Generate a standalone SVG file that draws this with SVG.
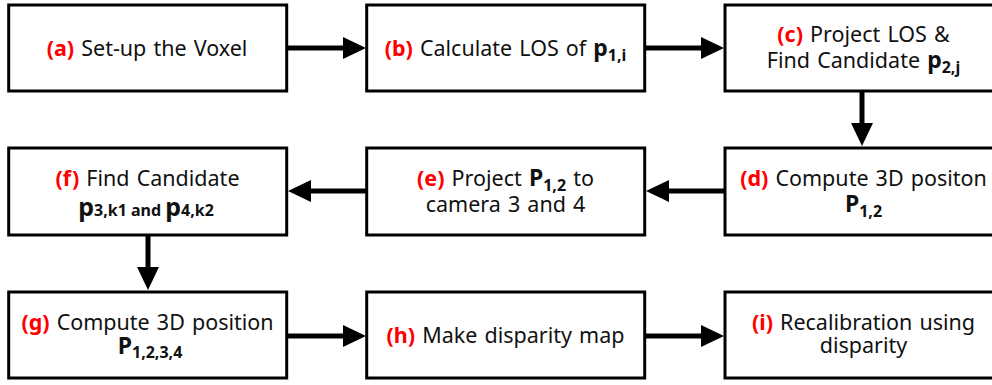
<svg xmlns="http://www.w3.org/2000/svg" width="992" height="385" viewBox="0 0 992 385">
<defs>
<style>
.box{fill:#fff;stroke:#000;stroke-width:3}
.t{font-family:"Noto Sans","Open Sans","DejaVu Sans",sans-serif;font-size:21.5px;fill:#111;text-anchor:middle;word-spacing:1.5px}
.r{fill:#ff0000;font-weight:bold}
.b{font-weight:bold}
.s{font-weight:bold;font-size:16px;word-spacing:0}
.con{stroke:#000;stroke-width:5;fill:none}
</style>
<marker id="ah" markerUnits="userSpaceOnUse" markerWidth="23" markerHeight="22" refX="0" refY="11" orient="auto">
<path d="M0,0 L23,11 L0,22 Z" fill="#000"/>
</marker>
</defs>
<rect width="992" height="385" fill="#fff"/>
<g id="connectors">
<line class="con" x1="288" y1="48" x2="343" y2="48" marker-end="url(#ah)"/>
<line class="con" x1="646" y1="48" x2="701" y2="48" marker-end="url(#ah)"/>
<line class="con" x1="862" y1="92" x2="862" y2="123" marker-end="url(#ah)"/>
<line class="con" x1="724" y1="191" x2="669" y2="191" marker-end="url(#ah)"/>
<line class="con" x1="366" y1="191" x2="311" y2="191" marker-end="url(#ah)"/>
<line class="con" x1="148" y1="236" x2="148" y2="267" marker-end="url(#ah)"/>
<line class="con" x1="288" y1="336" x2="343" y2="336" marker-end="url(#ah)"/>
<line class="con" x1="646" y1="336" x2="701" y2="336" marker-end="url(#ah)"/>
</g>
<g id="node-a">
<rect class="box" x="8.7" y="5" width="278" height="86"/>
<text class="t" x="147" y="56"><tspan class="r">(a)</tspan> Set-up the Voxel</text>
</g>
<g id="node-b">
<rect class="box" x="366.7" y="5" width="278" height="86"/>
<text class="t" x="505.5" y="56"><tspan class="r">(b)</tspan> Calculate LOS of <tspan class="b" font-size="23">p</tspan><tspan class="s" dy="5">1,i</tspan></text>
</g>
<g id="node-c">
<rect class="box" x="725" y="5" width="278" height="86"/>
<text class="t" x="863.5" y="42"><tspan class="r">(c)</tspan> Project LOS &amp;</text>
<text class="t" x="863.5" y="68">Find Candidate <tspan class="b" font-size="23">p</tspan><tspan class="s" dy="5">2,j</tspan></text>
</g>
<g id="node-d">
<rect class="box" x="725" y="148" width="278" height="87"/>
<text class="t" x="863.5" y="185.5"><tspan class="r">(d)</tspan> Compute 3D positon</text>
<text class="t" x="863.5" y="211.5"><tspan class="b" font-size="23">P</tspan><tspan class="s" dy="5">1,2</tspan></text>
</g>
<g id="node-e">
<rect class="box" x="366.7" y="148" width="278" height="87"/>
<text class="t" x="505.5" y="185.5"><tspan class="r">(e)</tspan> Project <tspan class="b" font-size="23">P</tspan><tspan class="s" dy="5">1,2</tspan><tspan dy="-5"> to</tspan></text>
<text class="t" x="505.5" y="211.5">camera 3 and 4</text>
</g>
<g id="node-f">
<rect class="box" x="8.7" y="148" width="278" height="87"/>
<text class="t" x="147.5" y="185.5"><tspan class="r">(f)</tspan> Find Candidate</text>
<text class="t" x="146" y="216"><tspan class="b" font-size="25">p</tspan><tspan class="s" font-size="15">3,k1 and </tspan><tspan class="b" font-size="25">p</tspan><tspan class="s" font-size="15">4,k2</tspan></text>
</g>
<g id="node-g">
<rect class="box" x="8.7" y="292" width="278" height="86"/>
<text class="t" x="147.5" y="330"><tspan class="r">(g)</tspan> Compute 3D position</text>
<text class="t" x="150" y="354"><tspan class="b" font-size="23">P</tspan><tspan class="s" dy="4">1,2,3,4</tspan></text>
</g>
<g id="node-h">
<rect class="box" x="366.7" y="292" width="278" height="86"/>
<text class="t" x="505.5" y="343"><tspan class="r">(h)</tspan> Make disparity map</text>
</g>
<g id="node-i">
<rect class="box" x="725" y="292" width="278" height="86"/>
<text class="t" x="863.5" y="330"><tspan class="r">(i)</tspan> Recalibration using</text>
<text class="t" x="863.5" y="353">disparity</text>
</g>
</svg>
